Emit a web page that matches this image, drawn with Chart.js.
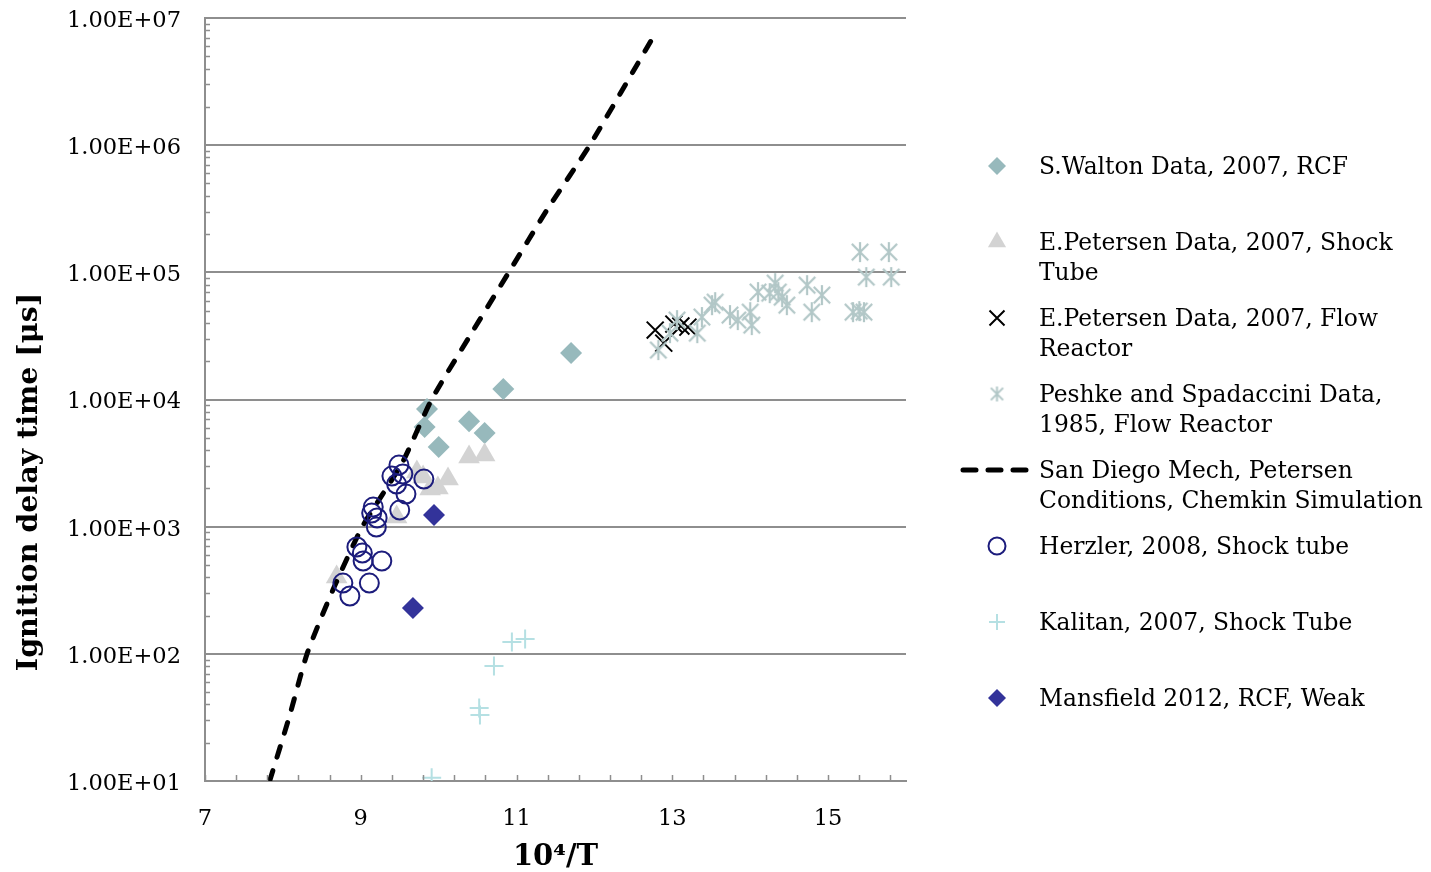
<!DOCTYPE html>
<html>
<head>
<meta charset="utf-8">
<script src="https://cdn.jsdelivr.net/npm/chart.js@4.4.1/dist/chart.umd.min.js"></script>
<style>
  html, body { margin: 0; padding: 0; background: #ffffff; }
  #wrap { position: relative; width: 1431px; height: 872px; }
</style>
</head>
<body>
<div id="wrap"><canvas id="chart" width="1431" height="872"></canvas></div>
<script>
// ---- axis ticks ----
const xTickValues = [7, 9, 11, 13, 15];
const xTickLabels = ['7', '9', '11', '13', '15'];
const yTickValues = [1e1, 1e2, 1e3, 1e4, 1e5, 1e6, 1e7];
const yTickLabels = ['1.00E+01', '1.00E+02', '1.00E+03', '1.00E+04', '1.00E+05', '1.00E+06', '1.00E+07'];

// ---- series names (legend lines) ----
const seriesNames = [
  ['S.Walton Data, 2007, RCF'],
  ['E.Petersen Data, 2007, Shock', 'Tube'],
  ['E.Petersen Data, 2007, Flow', 'Reactor'],
  ['Peshke and Spadaccini Data,', '1985, Flow Reactor'],
  ['San Diego Mech, Petersen', 'Conditions, Chemkin Simulation'],
  ['Herzler, 2008, Shock tube'],
  ['Kalitan, 2007, Shock Tube'],
  ['Mansfield 2012, RCF, Weak']
];

// ---- measured ignition delays (x = 10^4/T, y = delay in microseconds) ----
const waltonX = [9.85, 9.82, 10.00, 10.39, 10.59, 10.83, 11.70];
const waltonY = [8410, 6070, 4225, 6760, 5440, 12070, 23170];

const petersenShockX = [8.69, 9.46, 9.72, 9.80, 9.89, 9.99, 10.12, 10.39, 10.59];
const petersenShockY = [402, 1190, 2686, 2455, 1977, 2011, 2367, 3524, 3656];

const petersenFlowX = [12.78, 12.89, 13.02, 13.11, 13.20];
const petersenFlowY = [35150, 27750, 39170, 37830, 37080];

const peshkeX = [15.41, 15.78, 15.49, 15.81, 15.32, 15.40, 15.46, 14.79, 14.92, 14.73,
                 14.32, 14.36, 14.25, 14.41, 14.47, 14.10, 14.00, 14.02, 13.84, 13.74,
                 13.55, 13.51, 13.38, 13.32, 13.06, 12.97, 12.82];
const peshkeY = [144200, 144200, 91700, 91700, 48600, 49550, 48600, 48600, 66200, 79300,
                 82200, 69900, 68600, 63800, 55200, 69900, 48600, 38450, 42100, 46100,
                 58300, 55200, 44500, 33250, 42100, 33250, 24450];

const sanDiegoX = [7.83, 8.08, 8.31, 8.64, 9.02, 9.53, 9.91, 10.40, 10.90, 11.40, 11.94, 12.73];
const sanDiegoY = [10, 31.6, 100, 316, 1000, 3162, 10000, 31623, 100000, 316228, 1000000, 6680000];

const herzlerX = [9.49, 9.40, 9.54, 9.46, 9.58, 9.81, 9.50, 9.16, 9.14, 9.21, 9.20, 8.95,
                  9.02, 9.03, 9.27, 9.11, 8.77, 8.86];
const herzlerY = [3050, 2500, 2593, 2163, 1804, 2367, 1351, 1426, 1279, 1169, 993, 692,
                  620, 537, 537, 360, 360, 285];

const kalitanX = [10.94, 11.11, 10.71, 10.52, 10.53, 9.91];
const kalitanY = [124, 131, 80.2, 37.5, 33.0, 10.6];

const mansfieldX = [9.94, 9.67];
const mansfieldY = [1234, 229];

// ---- helpers ----
const pts = (xs, ys) => xs.map((x, i) => ({ x: x, y: ys[i] }));

const FONT = "'DejaVu Serif', 'Liberation Serif', serif";
const GRID = '#8e8e8e';
const COLORS = {
  walton: '#97b9bc',
  shock: '#d3d3d3',
  flow: '#000000',
  peshke: '#b2c7c7',
  sim: '#000000',
  herzler: '#1c1c7c',
  kalitan: '#b5e0e3',
  mansfield: '#33339a'
};

// asterisk marker (vertical bar + diagonal cross)
function makeAsterisk(size, color, lw) {
  const c = document.createElement('canvas');
  c.width = size; c.height = size;
  const g = c.getContext('2d');
  g.strokeStyle = color; g.lineWidth = lw;
  const m = size / 2, r = size / 2 - 1, d = r * 0.82;
  g.beginPath();
  g.moveTo(m, m - r); g.lineTo(m, m + r);
  g.moveTo(m - d, m - d); g.lineTo(m + d, m + d);
  g.moveTo(m + d, m - d); g.lineTo(m - d, m + d);
  g.stroke();
  return c;
}
const asteriskPoint = makeAsterisk(22, COLORS.peshke, 2.2);
const asteriskLegend = makeAsterisk(17, COLORS.peshke, 2);

const datasets = [
  { label: seriesNames[0].join(' '), data: pts(waltonX, waltonY), pointStyle: 'rectRot',
    pointRadius: 11, backgroundColor: COLORS.walton, borderColor: COLORS.walton, borderWidth: 0 },
  { label: seriesNames[1].join(' '), data: pts(petersenShockX, petersenShockY), pointStyle: 'triangle',
    pointRadius: 12.5, backgroundColor: COLORS.shock, borderColor: COLORS.shock, borderWidth: 0 },
  { label: seriesNames[2].join(' '), data: pts(petersenFlowX, petersenFlowY), pointStyle: 'crossRot',
    pointRadius: 12, backgroundColor: COLORS.flow, borderColor: COLORS.flow, borderWidth: 2 },
  { label: seriesNames[3].join(' '), data: pts(peshkeX, peshkeY), pointStyle: asteriskPoint,
    pointRadius: 11, backgroundColor: COLORS.peshke, borderColor: COLORS.peshke, borderWidth: 2 },
  { label: seriesNames[4].join(' '), data: pts(sanDiegoX, sanDiegoY), showLine: true, pointRadius: 0,
    borderColor: COLORS.sim, backgroundColor: COLORS.sim, borderWidth: 5, borderDash: [11, 14],
    borderCapStyle: 'round', tension: 0.2, fill: false },
  { label: seriesNames[5].join(' '), data: pts(herzlerX, herzlerY), pointStyle: 'circle',
    pointRadius: 9.5, backgroundColor: 'rgba(0,0,0,0)', borderColor: COLORS.herzler, borderWidth: 2 },
  { label: seriesNames[6].join(' '), data: pts(kalitanX, kalitanY), pointStyle: 'cross',
    pointRadius: 9.5, backgroundColor: COLORS.kalitan, borderColor: COLORS.kalitan, borderWidth: 2 },
  { label: seriesNames[7].join(' '), data: pts(mansfieldX, mansfieldY), pointStyle: 'rectRot',
    pointRadius: 11, backgroundColor: COLORS.mansfield, borderColor: COLORS.mansfield, borderWidth: 0 }
];
// later series are painted on top
datasets.forEach((d, i) => { d.order = datasets.length - 1 - i; });

const legendKinds = ['diamond', 'triangle', 'x', 'asterisk', 'dash', 'circle', 'plus', 'diamond'];

function drawLegendMarker(ctx, kind, x, y, color) {
  ctx.save();
  ctx.strokeStyle = color; ctx.fillStyle = color; ctx.lineWidth = 2;
  ctx.beginPath();
  if (kind === 'diamond') {
    const r = 9;
    ctx.moveTo(x, y - r); ctx.lineTo(x + r, y); ctx.lineTo(x, y + r); ctx.lineTo(x - r, y); ctx.closePath();
    ctx.fill();
  } else if (kind === 'triangle') {
    const r = 10.5;
    ctx.moveTo(x, y - r); ctx.lineTo(x + 0.866 * r, y + 0.5 * r); ctx.lineTo(x - 0.866 * r, y + 0.5 * r);
    ctx.closePath(); ctx.fill();
  } else if (kind === 'x') {
    const r = 7.5;
    ctx.moveTo(x - r, y - r); ctx.lineTo(x + r, y + r);
    ctx.moveTo(x + r, y - r); ctx.lineTo(x - r, y + r);
    ctx.stroke();
  } else if (kind === 'asterisk') {
    ctx.drawImage(asteriskLegend, x - asteriskLegend.width / 2, y - asteriskLegend.height / 2);
  } else if (kind === 'dash') {
    ctx.lineWidth = 5; ctx.lineCap = 'round'; ctx.setLineDash([13, 12]);
    ctx.moveTo(x - 34, y); ctx.lineTo(x + 30, y);
    ctx.stroke();
  } else if (kind === 'circle') {
    ctx.arc(x, y, 8.5, 0, Math.PI * 2); ctx.stroke();
  } else if (kind === 'plus') {
    const r = 8;
    ctx.moveTo(x - r, y); ctx.lineTo(x + r, y);
    ctx.moveTo(x, y - r); ctx.lineTo(x, y + r);
    ctx.stroke();
  }
  ctx.restore();
}

// inner tick marks, rotated y title and the side legend
const decorPlugin = {
  id: 'decor',
  afterDraw(chart) {
    const ctx = chart.ctx;
    const xs = chart.scales.x, ys = chart.scales.y;
    const area = chart.chartArea;

    ctx.save();
    ctx.strokeStyle = GRID; ctx.lineWidth = 1.5;
    ctx.beginPath();
    // minor ticks on the log axis
    for (let e = 1; e < 7; e++) {
      for (let k = 2; k <= 9; k++) {
        const py = Math.round(ys.getPixelForValue(k * Math.pow(10, e))) + 0.5;
        ctx.moveTo(area.left, py); ctx.lineTo(area.left + 5, py);
      }
    }
    // tick marks every 0.4 along x
    for (let i = 0; i <= 22; i++) {
      const px = Math.round(xs.getPixelForValue(xs.min + 0.4 * i)) + 0.5;
      ctx.moveTo(px, area.bottom); ctx.lineTo(px, area.bottom - 6);
    }
    ctx.stroke();
    ctx.restore();

    // y axis title
    ctx.save();
    ctx.translate(30, 482);
    ctx.rotate(-Math.PI / 2);
    ctx.font = "bold 28.5px " + FONT;
    ctx.fillStyle = '#000';
    ctx.textAlign = 'center';
    ctx.textBaseline = 'middle';
    ctx.fillText('Ignition delay time [\u03bcs]', 0, 0);
    ctx.restore();

    // legend
    ctx.save();
    ctx.font = "23.4px " + FONT;
    ctx.fillStyle = '#000';
    ctx.textAlign = 'left';
    ctx.textBaseline = 'middle';
    chart.data.datasets.forEach((ds, i) => {
      const y0 = 166 + 76 * i;
      drawLegendMarker(ctx, legendKinds[i], 997, y0, ds.borderColor === 'rgba(0,0,0,0)' ? ds.backgroundColor : ds.borderColor);
      seriesNames[i].forEach((line, j) => ctx.fillText(line, 1039, y0 + 2 + 30 * j));
    });
    ctx.restore();
  }
};

Chart.defaults.font.family = FONT;
Chart.defaults.color = '#000';

new Chart(document.getElementById('chart'), {
  type: 'scatter',
  data: { datasets: datasets },
  plugins: [decorPlugin],
  options: {
    responsive: false,
    animation: false,
    events: [],
    layout: { padding: { top: 18, right: 525, bottom: 0, left: 0 } },
    plugins: { legend: { display: false }, tooltip: { enabled: false } },
    scales: {
      x: {
        type: 'linear', min: 7, max: 16,
        afterBuildTicks: s => { s.ticks = xTickValues.map(v => ({ value: v })); },
        afterFit: s => { s.height = 91; s.paddingLeft = 0; s.paddingRight = 0; },
        ticks: { autoSkip: false, maxRotation: 0, padding: 17, font: { size: 22.5 }, color: '#000',
                 callback: (v, i) => xTickLabels[i] },
        grid: { display: false },
        border: { display: true, color: GRID, width: 2 },
        title: { display: true, text: '10\u2074/T', font: { size: 29, weight: 'bold', lineHeight: 1.0 },
                 color: '#000', padding: { top: 0, bottom: 0 } }
      },
      y: {
        type: 'logarithmic', min: 10, max: 1e7,
        afterBuildTicks: s => { s.ticks = yTickValues.map(v => ({ value: v })); },
        afterFit: s => { s.width = 205; s.paddingTop = 0; s.paddingBottom = 0; },
        ticks: { autoSkip: false, padding: 24, labelOffset: 3, font: { size: 22.5 }, color: '#000',
                 callback: (v, i) => yTickLabels[i] },
        grid: { color: GRID, lineWidth: 2, drawTicks: false },
        border: { display: true, color: GRID, width: 2 }
      }
    }
  }
});
</script>
</body>
</html>
